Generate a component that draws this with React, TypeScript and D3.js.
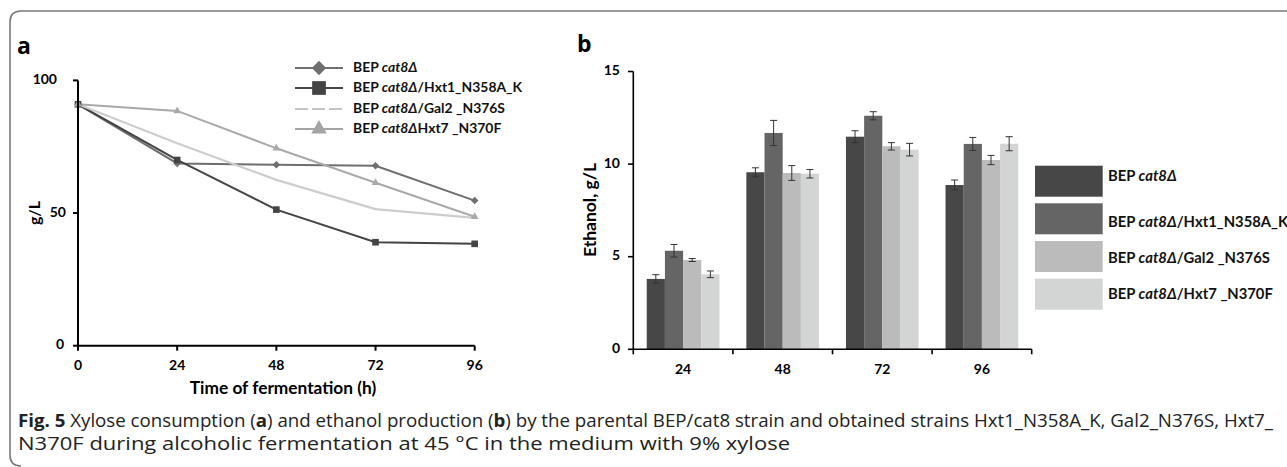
import React from "react";
import * as d3 from "d3";

const times = [0, 24, 48, 72, 96];
const xTicksA = [0, 24, 48, 72, 96];
const yTicksA = [0, 50, 100];
const strainsA = ["BEP cat8Δ", "BEP cat8Δ/Hxt1_N358A_K", "BEP cat8Δ/Gal2 _N376S", "BEP cat8ΔHxt7 _N370F"];
const seriesBEP = [91, 68.7, 68.2, 67.8, 54.7];
const seriesHxt1 = [91, 70, 51.3, 39, 38.4];
const seriesGal2 = [91, 76.3, 62.5, 51.5, 48.2];
const seriesHxt7 = [91, 88.5, 74.4, 61.4, 48.6];

const groupsB = ["24", "48", "72", "96"];
const yTicksB = [0, 5, 10, 15];
const strainsB = ["BEP cat8Δ", "BEP cat8Δ/Hxt1_N358A_K", "BEP cat8Δ/Gal2 _N376S", "BEP cat8Δ/Hxt7 _N370F"];
const ethanolBEP = [3.8, 9.56, 11.48, 8.87];
const ethanolHxt1 = [5.32, 11.68, 12.61, 11.09];
const ethanolGal2 = [4.82, 9.52, 10.96, 10.22];
const ethanolHxt7 = [4.05, 9.48, 10.78, 11.1];
const errBEP = [0.23, 0.24, 0.32, 0.27];
const errHxt1 = [0.34, 0.68, 0.22, 0.35];
const errGal2 = [0.08, 0.4, 0.2, 0.25];
const errHxt7 = [0.18, 0.23, 0.34, 0.38];

const font = "Lato, 'Open Sans', sans-serif";
const capFont = "'Open Sans', sans-serif";

function StrainLabel({ name, x, y, size }: { name: string; x: number; y: number; size: number }) {
  const rest = name.slice("BEP cat8Δ".length);
  return (
    <text x={x} y={y} fontFamily={font} fontWeight="bold" fontSize={size} fill="#111" dominantBaseline="middle">
      BEP <tspan fontStyle="italic">cat8Δ</tspan>{rest}
    </text>
  );
}

export default function App() {
  // Panel a scales
  const xA = d3.scaleLinear().domain([0, 96]).range([78, 474.7]);
  const yA = d3.scaleLinear().domain([0, 100]).range([345.7, 80.4]);
  const lineA = d3.line<number>().x((_, i) => xA(times[i])).y((d) => yA(d));
  const linesA = [
    { data: seriesBEP, color: "#6e6e6e", marker: "diamond", width: 2 },
    { data: seriesHxt1, color: "#444444", marker: "square", width: 2 },
    { data: seriesGal2, color: "#cdcdcd", marker: "none", width: 2.2 },
    { data: seriesHxt7, color: "#a9a9a9", marker: "triangle", width: 2 },
  ];
  const legendA = [
    { color: "#6e6e6e", marker: "diamond", dash: "", y: 68 },
    { color: "#444444", marker: "square", dash: "", y: 88 },
    { color: "#c4c4c4", marker: "none", dash: "13,4", y: 109 },
    { color: "#a4a4a4", marker: "triangle", dash: "", y: 129 },
  ];
  const markerPath = (m: string, size: number) => {
    if (m === "diamond") return d3.symbol(d3.symbolDiamond2, size)();
    if (m === "square") return d3.symbol(d3.symbolSquare2, size)();
    if (m === "triangle") return d3.symbol(d3.symbolTriangle2, size)();
    return null;
  };
  const yLabelRight: Record<number, number> = { 0: 64, 50: 66, 100: 57 };

  // Panel b scales
  const xB = d3.scaleBand().domain(groupsB).range([633.3, 1031.7]).paddingInner(0.27).paddingOuter(0.135);
  const yB = d3.scaleLinear().domain([0, 15]).range([349.3, 71.5]);
  const barSeries = [
    { values: ethanolBEP, err: errBEP, color: "#474747" },
    { values: ethanolHxt1, err: errHxt1, color: "#656565" },
    { values: ethanolGal2, err: errGal2, color: "#bbbbbb" },
    { values: ethanolHxt7, err: errHxt7, color: "#d3d4d4" },
  ];
  const xInner = d3.scaleBand<number>().domain([0, 1, 2, 3]).range([0, xB.bandwidth()]);
  const bandStep = (1031.7 - 633.3) / groupsB.length;
  const tickXB = d3.range(groupsB.length + 1).map((i) => 633.3 + i * bandStep);

  return (
    <svg width={1287} height={467} style={{ position: "absolute", left: 0, top: 0 }}>
      <rect width={1287} height={467} fill="#fff" />
      {/* frame */}
      <path d="M1287,11 H21 Q10,11 10,22 V455 Q10,466 21,466" fill="none" stroke="#7a7a7a" strokeWidth={1.6} />

      {/* Panel labels */}
      <text x={17} y={54} fontFamily="'Open Sans', Arial, sans-serif" fontWeight="bold" fontSize={23}>a</text>
      <text x={577} y={52} fontFamily="'Open Sans', Arial, sans-serif" fontWeight="bold" fontSize={23}>b</text>

      {/* ===== Panel a ===== */}
      {linesA.map((s, i) => (
        <path key={i} d={lineA(s.data) || ""} fill="none" stroke={s.color} strokeWidth={s.width} />
      ))}
      {linesA.map((s, i) =>
        s.marker === "none"
          ? null
          : s.data.map((v, j) => (
              <path
                key={`${i}-${j}`}
                d={markerPath(s.marker, s.marker === "square" ? 56 : s.marker === "diamond" ? 36 : 44) || ""}
                transform={`translate(${xA(times[j])},${yA(v)})`}
                fill={s.color}
              />
            ))
      )}
      {/* axes a */}
      <line x1={xA(0)} x2={xA(0)} y1={yA(100)} y2={yA(0)} stroke="#000" strokeWidth={2} />
      <line x1={xA(0)} x2={xA(96)} y1={yA(0)} y2={yA(0)} stroke="#000" strokeWidth={2} />
      {yTicksA.map((t) => (
        <g key={t}>
          <line x1={xA(0) - 5} x2={xA(0)} y1={yA(t)} y2={yA(t)} stroke="#000" strokeWidth={2} />
          <text x={yLabelRight[t]} y={yA(t)} textAnchor="end" dominantBaseline="middle" fontFamily={font} fontWeight="bold" fontSize={14}>
            {t}
          </text>
        </g>
      ))}
      {xTicksA.map((t) => (
        <g key={t}>
          <line x1={xA(t)} x2={xA(t)} y1={yA(0)} y2={yA(0) + 5} stroke="#000" strokeWidth={2} />
          <text x={xA(t)} y={366} textAnchor="middle" dominantBaseline="middle" fontFamily={font} fontWeight="bold" fontSize={14}>
            {t}
          </text>
        </g>
      ))}
      <text transform="translate(36,213) rotate(-90)" textAnchor="middle" dominantBaseline="middle" fontFamily={font} fontWeight="bold" fontSize={16}>
        g/L
      </text>
      <text x={283} y={390} textAnchor="middle" dominantBaseline="middle" fontFamily={font} fontWeight="bold" fontSize={17.3}>
        Time of fermentation (h)
      </text>
      {/* legend a */}
      {legendA.map((l, i) => (
        <g key={i}>
          <line x1={295} x2={343} y1={l.y} y2={l.y} stroke={l.color} strokeWidth={2} strokeDasharray={l.dash || undefined} />
          {l.marker !== "none" && (
            <path
              d={markerPath(l.marker, l.marker === "square" ? 240 : l.marker === "diamond" ? 130 : 170) || ""}
              transform={`translate(319,${l.y})`}
              fill={l.color}
            />
          )}
          <StrainLabel name={strainsA[i]} x={353} y={l.y} size={13.9} />
        </g>
      ))}

      {/* ===== Panel b ===== */}
      {barSeries.map((s, si) =>
        s.values.map((v, gi) => {
          const x0 = (xB(groupsB[gi]) || 0) + (xInner(si) || 0);
          const w = xInner.bandwidth();
          const cx = x0 + w / 2;
          return (
            <g key={`${si}-${gi}`}>
              <rect x={x0} y={yB(v)} width={w} height={yB(0) - yB(v)} fill={s.color} />
              <line x1={cx} x2={cx} y1={yB(v + s.err[gi])} y2={yB(v - s.err[gi])} stroke="#333" strokeWidth={1} />
              <line x1={cx - 3.5} x2={cx + 3.5} y1={yB(v + s.err[gi])} y2={yB(v + s.err[gi])} stroke="#333" strokeWidth={1} />
              <line x1={cx - 3.5} x2={cx + 3.5} y1={yB(v - s.err[gi])} y2={yB(v - s.err[gi])} stroke="#333" strokeWidth={1} />
            </g>
          );
        })
      )}
      <line x1={633.3} x2={633.3} y1={yB(15)} y2={yB(0)} stroke="#000" strokeWidth={1.6} />
      <line x1={633.3} x2={1031.7} y1={yB(0)} y2={yB(0)} stroke="#000" strokeWidth={1.6} />
      {yTicksB.map((t) => (
        <g key={t}>
          <line x1={628} x2={633.3} y1={yB(t)} y2={yB(t)} stroke="#000" strokeWidth={1.6} />
          <text x={620} y={yB(t)} textAnchor="end" dominantBaseline="middle" fontFamily={font} fontWeight="bold" fontSize={14}>
            {t}
          </text>
        </g>
      ))}
      {tickXB.map((x, i) => (
        <line key={i} x1={x} x2={x} y1={yB(0)} y2={yB(0) + 5} stroke="#000" strokeWidth={1.6} />
      ))}
      {groupsB.map((g) => (
        <text key={g} x={(xB(g) || 0) + xB.bandwidth() / 2} y={370} textAnchor="middle" dominantBaseline="middle" fontFamily={font} fontWeight="bold" fontSize={14}>
          {g}
        </text>
      ))}
      <text transform="translate(592,210) rotate(-90)" textAnchor="middle" dominantBaseline="middle" fontFamily={font} fontWeight="bold" fontSize={17.5}>
        Ethanol, g/L
      </text>
      {/* legend b */}
      {barSeries.map((s, i) => {
        const ys = [165.7, 203.3, 241, 278.7];
        const ty = [177, 223, 259, 295];
        return (
          <g key={i}>
            <rect x={1035} y={ys[i]} width={67.7} height={31} fill={s.color} />
            <StrainLabel name={strainsB[i]} x={1108} y={ty[i]} size={14.8} />
          </g>
        );
      })}

      {/* caption */}
      <text x={18} y={427} fontFamily={capFont} fontSize={17.5} fill="#222" textLength={1255} lengthAdjust="spacingAndGlyphs">
        <tspan fontWeight="bold">Fig. 5</tspan>
        <tspan>{"  Xylose consumption ("}</tspan>
        <tspan fontWeight="bold">a</tspan>
        <tspan>) and ethanol production (</tspan>
        <tspan fontWeight="bold">b</tspan>
        <tspan>) by the parental BEP/cat8 strain and obtained strains Hxt1_N358A_K, Gal2_N376S, Hxt7_</tspan>
      </text>
      <text x={18} y={450} fontFamily={capFont} fontSize={17.5} fill="#222" textLength={772} lengthAdjust="spacingAndGlyphs">
        N370F during alcoholic fermentation at 45 °C in the medium with 9% xylose
      </text>
    </svg>
  );
}
